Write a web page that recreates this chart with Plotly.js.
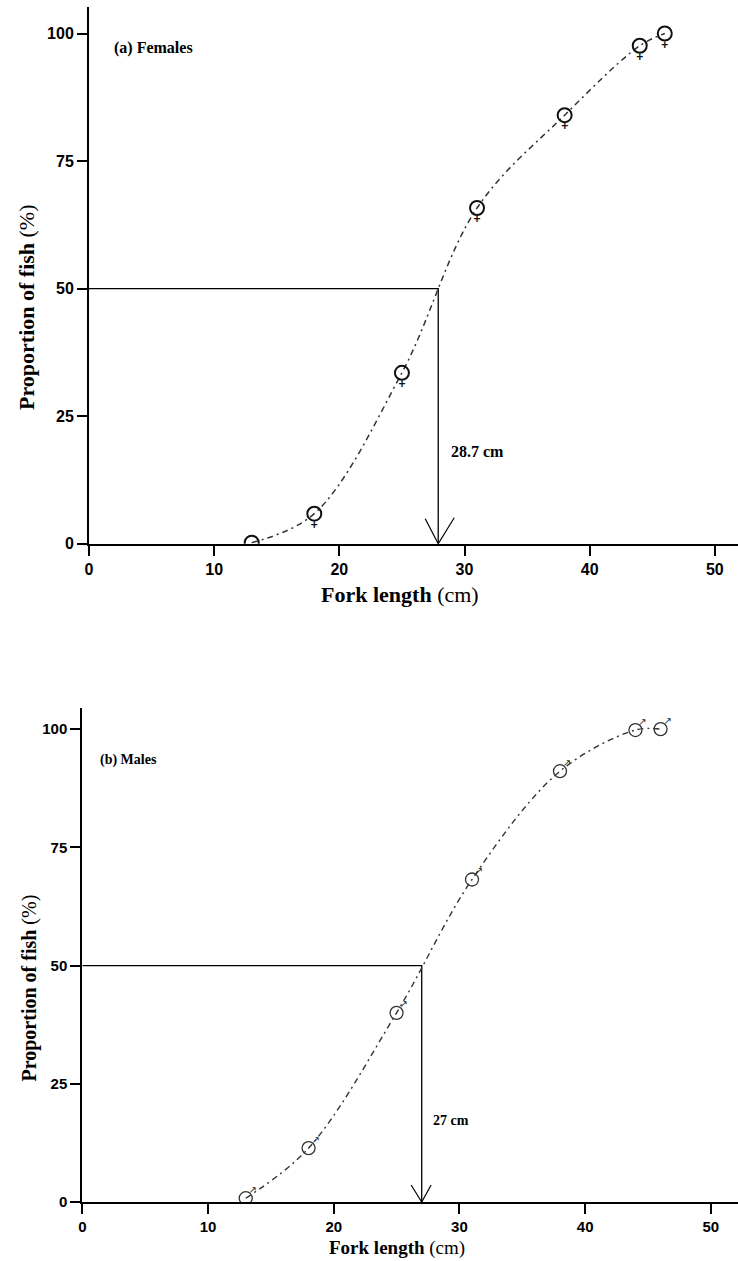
<!DOCTYPE html>
<html>
<head>
<meta charset="utf-8">
<script src="https://cdn.plot.ly/plotly-3.0.1.min.js"></script>
<style>html,body{margin:0;padding:0;background:#fff;}#chart{width:738px;height:1261px;}</style>
</head>
<body>
<div id="chart"></div>
<script>
// ---- data ----
var forkLength = [13, 18, 25, 31, 38, 44, 46];
var femalePct = [0.2, 5.9, 33.5, 65.8, 84.0, 97.6, 100];
var malePct = [0.8, 11.4, 40.0, 68.2, 91.1, 99.8, 100];
var xTicks = [0, 10, 20, 30, 40, 50];
var yTicks = [0, 25, 50, 75, 100];
var halfLevel = 50;
var l50Female = 27.9;
var l50Male = 27.0;
var l50FemaleLabel = '28.7 cm';
var l50MaleLabel = '27 cm';
var panelLabels = ['(a) Females', '(b) Males'];

var serif = 'Liberation Serif, Times New Roman, serif';
var sans = 'Liberation Sans, Arial, sans-serif';
var dashPat = '6px,4px,2px,4px';

var traces = [
  // reference lines at 50 %
  { x: [0, l50Female, l50Female], y: [halfLevel, halfLevel, 0], xaxis: 'x', yaxis: 'y',
    mode: 'lines', line: { color: '#000', width: 1.3 }, hoverinfo: 'skip', showlegend: false },
  { x: [0, l50Male, l50Male], y: [halfLevel, halfLevel, 0], xaxis: 'x2', yaxis: 'y2',
    mode: 'lines', line: { color: '#000', width: 1.3 }, hoverinfo: 'skip', showlegend: false },
  // females
  { x: forkLength, y: femalePct, xaxis: 'x', yaxis: 'y',
    mode: 'lines+markers', line: { shape: 'spline', smoothing: 1, dash: dashPat, color: '#333', width: 1.5 },
    marker: { symbol: 'circle-open', size: 14, color: '#111', line: { width: 2 } }, showlegend: false },
  { x: forkLength, y: femalePct, xaxis: 'x', yaxis: 'y',
    mode: 'markers+text', marker: { size: 8, opacity: 0 },
    text: forkLength.map(function () { return '+'; }), textposition: 'bottom center',
    textfont: { family: sans, size: 12, color: '#111', weight: 'bold' }, showlegend: false, hoverinfo: 'skip' },
  // males
  { x: forkLength, y: malePct, xaxis: 'x2', yaxis: 'y2',
    mode: 'lines+markers', line: { shape: 'spline', smoothing: 1, dash: dashPat, color: '#333', width: 1.4 },
    marker: { symbol: 'circle-open', size: 13, color: '#333', line: { width: 1.3 } }, showlegend: false },
  { x: forkLength, y: malePct, xaxis: 'x2', yaxis: 'y2',
    mode: 'markers+text', marker: { size: 3, opacity: 0 },
    text: forkLength.map(function () { return '\u2197'; }), textposition: 'top right',
    textfont: { family: 'DejaVu Sans', size: 10, color: '#222' }, showlegend: false, hoverinfo: 'skip' }
];

function xax(domain, range, anchor, fs) {
  return { domain: domain, range: range, anchor: anchor, tickvals: xTicks, showline: true, linewidth: 2,
    linecolor: '#000', ticks: 'outside', ticklen: 10, tickwidth: 2, tickcolor: '#000', showgrid: false,
    zeroline: false, tickfont: { family: sans, size: fs, color: '#000', weight: 'bold' }, fixedrange: true };
}
function yax(domain, range, anchor, fs) {
  return { domain: domain, range: range, anchor: anchor, tickvals: yTicks, showline: true, linewidth: 2,
    linecolor: '#000', ticks: 'outside', ticklen: 10, tickwidth: 2, tickcolor: '#000', showgrid: false,
    zeroline: false, tickfont: { family: sans, size: fs, color: '#000', weight: 'bold' }, fixedrange: true };
}

var layout = {
  width: 738, height: 1261, margin: { l: 0, r: 0, t: 0, b: 0 },
  paper_bgcolor: '#fff', plot_bgcolor: '#fff', showlegend: false,
  xaxis: xax([89 / 738, 1], [0, 51.85], 'y', 16),
  yaxis: yax([0.5688, 0.99445], [0, 105.2], 'x', 16),
  xaxis2: xax([82.3 / 738, 1], [0, 52.16], 'y2', 15),
  yaxis2: yax([0.04679, 0.4383], [0, 104.4], 'x2', 15),
  shapes: [
    { type: 'path', xref: 'x', yref: 'y', xsizemode: 'pixel', ysizemode: 'pixel', xanchor: l50Female, yanchor: 0,
      path: 'M-13,25 L0,0 L16,26', line: { color: '#000', width: 1.2 } },
    { type: 'path', xref: 'x2', yref: 'y2', xsizemode: 'pixel', ysizemode: 'pixel', xanchor: l50Male, yanchor: 0,
      path: 'M-10.6,17 L0,0 L9.4,17', line: { color: '#000', width: 1.2 } }
  ],
  annotations: [
    { text: '<b>' + panelLabels[0] + '</b>', xref: 'x domain', yref: 'y domain', x: 0.0354, y: 0.924,
      xanchor: 'left', yanchor: 'middle', showarrow: false, font: { family: serif, size: 16, color: '#000' } },
    { text: '<b>' + panelLabels[1] + '</b>', xref: 'x2 domain', yref: 'y2 domain', x: 0.0244, y: 0.895,
      xanchor: 'left', yanchor: 'middle', showarrow: false, font: { family: serif, size: 14, color: '#000' } },
    { text: '<b>' + l50FemaleLabel + '</b>', xref: 'x', yref: 'y domain', x: l50Female, xshift: 11, y: 0.171,
      xanchor: 'left', yanchor: 'middle', showarrow: false, font: { family: serif, size: 16, color: '#000' } },
    { text: '<b>' + l50MaleLabel + '</b>', xref: 'x2', yref: 'y2 domain', x: l50Male, xshift: 9, y: 0.165,
      xanchor: 'left', yanchor: 'middle', showarrow: false, font: { family: serif, size: 14, color: '#000' } },
    { text: '<b>Fork length</b> (cm)', xref: 'paper', yref: 'paper', x: 400 / 738, y: (1261 - 594) / 1261,
      xanchor: 'center', yanchor: 'middle', showarrow: false, font: { family: serif, size: 22, color: '#000' } },
    { text: '<b>Proportion of fish</b> (%)', xref: 'paper', yref: 'paper', x: 26 / 738, y: (1261 - 307) / 1261,
      textangle: -90, xanchor: 'center', yanchor: 'middle', showarrow: false, font: { family: serif, size: 22, color: '#000' } },
    { text: '<b>Fork length</b> (cm)', xref: 'paper', yref: 'paper', x: 397 / 738, y: (1261 - 1248) / 1261,
      xanchor: 'center', yanchor: 'middle', showarrow: false, font: { family: serif, size: 19, color: '#000' } },
    { text: '<b>Proportion of fish</b> (%)', xref: 'paper', yref: 'paper', x: 29 / 738, y: (1261 - 988.5) / 1261,
      textangle: -90, xanchor: 'center', yanchor: 'middle', showarrow: false, font: { family: serif, size: 20, color: '#000' } }
  ]
};

Plotly.newPlot('chart', traces, layout, { staticPlot: true, displayModeBar: false });
</script>
</body>
</html>
